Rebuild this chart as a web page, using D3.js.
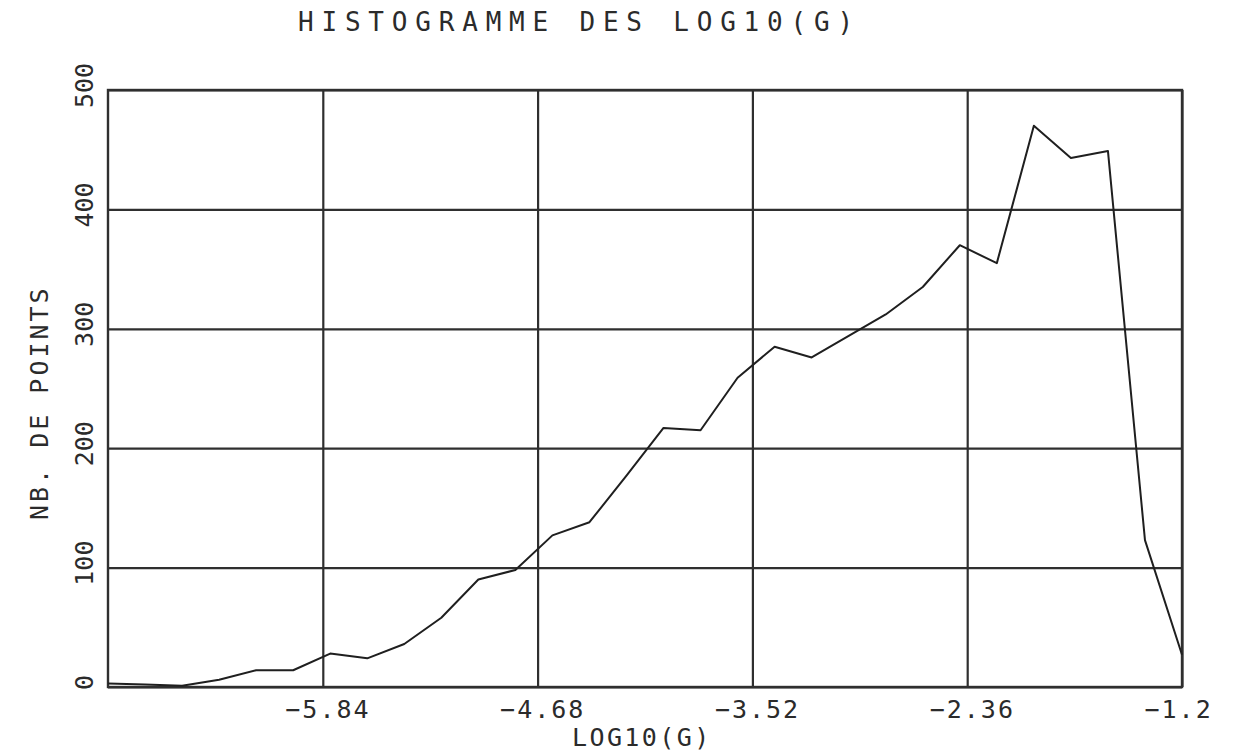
<!DOCTYPE html>
<html>
<head>
<meta charset="utf-8">
<script src="https://cdn.jsdelivr.net/npm/d3@7/dist/d3.min.js"></script>
<style>
  html, body { margin: 0; padding: 0; background: #ffffff; }
  svg { display: block; }
  text { font-family: "DejaVu Sans Mono", "Liberation Mono", monospace; fill: #2b2b2b; }
</style>
</head>
<body>
<svg id="chart" width="1240" height="752"></svg>
<script>
// Histogram of log10(G): number of points per 0.2-wide class
const classCentres = [-7.0, -6.8, -6.6, -6.4, -6.2, -6.0, -5.8, -5.6, -5.4, -5.2,
                      -5.0, -4.8, -4.6, -4.4, -4.2, -4.0, -3.8, -3.6, -3.4, -3.2,
                      -3.0, -2.8, -2.6, -2.4, -2.2, -2.0, -1.8, -1.6, -1.4, -1.2];
const pointCounts  = [3, 2, 1, 6, 14, 14, 28, 24, 36, 58,
                      90, 98, 127, 138, 177, 217, 215, 259, 285, 276,
                      294, 312, 335, 370, 355, 470, 443, 449, 123, 27];

const xTickValues = [-5.84, -4.68, -3.52, -2.36, -1.2];
const xTickLabels = ["−5.84", "−4.68", "−3.52", "−2.36", "−1.2"];
const yTickValues = [0, 100, 200, 300, 400, 500];
const yTickLabels = ["0", "100", "200", "300", "400", "500"];

const xDomain = [-7.0, -1.2];
const yDomain = [0, 500];

const titleText = "HISTOGRAMME DES LOG10(G)";
const xTitleText = "LOG10(G)";
const yTitleText = "NB. DE POINTS";

const W = 1240, H = 752;
const margin = { left: 108, right: 58, top: 90, bottom: 65 };
const plotW = W - margin.left - margin.right;
const plotH = H - margin.top - margin.bottom;
const ink = "#2f2f2f";

const svg = d3.select("#chart");
const g = svg.append("g").attr("transform", `translate(${margin.left},${margin.top})`);

const x = d3.scaleLinear().domain(xDomain).range([0, plotW]);
const y = d3.scaleLinear().domain(yDomain).range([plotH, 0]);

// vertical grid lines with labels below the frame
const xAxis = g.append("g")
  .attr("transform", `translate(0,${plotH})`)
  .call(d3.axisBottom(x).tickValues(xTickValues).tickSize(plotH).tickSizeOuter(0)
        .tickFormat((d, i) => xTickLabels[i]));
xAxis.select(".domain").remove();
xAxis.selectAll(".tick line")
  .attr("y1", 0).attr("y2", -plotH)
  .attr("stroke", ink).attr("stroke-width", 2.2);
xAxis.selectAll(".tick text")
  .attr("y", 31).attr("dy", 0)
  .attr("x", -38)
  .attr("text-anchor", "start")
  .style("font-size", "25px")
  .style("letter-spacing", "2px")
  .style("fill", "#2b2b2b");

// horizontal grid lines with rotated labels on the left
const yAxis = g.append("g")
  .call(d3.axisLeft(y).tickValues(yTickValues).tickSize(0).tickSizeOuter(0)
        .tickFormat((d, i) => yTickLabels[i]));
yAxis.select(".domain").remove();
yAxis.selectAll(".tick line")
  .attr("x1", 0).attr("x2", plotW)
  .attr("stroke", ink).attr("stroke-width", 2.2);
yAxis.selectAll(".tick text")
  .attr("x", null).attr("dy", null)
  .attr("transform", "translate(-15,-5) rotate(-90)")
  .attr("text-anchor", "middle")
  .style("font-size", "25px")
  .style("fill", "#2b2b2b");

// frame
g.append("rect")
  .attr("x", 0).attr("y", 0)
  .attr("width", plotW).attr("height", plotH)
  .attr("fill", "none").attr("stroke", ink).attr("stroke-width", 2.4);

// histogram polygon
const line = d3.line()
  .x((d, i) => x(classCentres[i]))
  .y(d => y(d));
g.append("path")
  .datum(pointCounts)
  .attr("d", line)
  .attr("fill", "none")
  .attr("stroke", "#1f1f1f")
  .attr("stroke-width", 2)
  .attr("stroke-linejoin", "round");

// titles
svg.append("text")
  .attr("x", 298).attr("y", 31)
  .style("font-size", "26px")
  .style("letter-spacing", "7.8px")
  .text(titleText);

svg.append("text")
  .attr("x", 572).attr("y", 746)
  .style("font-size", "25px")
  .style("letter-spacing", "2.4px")
  .text(xTitleText);

svg.append("text")
  .attr("transform", "translate(48,520) rotate(-90)")
  .attr("text-anchor", "start")
  .style("font-size", "25px")
  .style("letter-spacing", "3px")
  .text(yTitleText);
</script>
</body>
</html>
